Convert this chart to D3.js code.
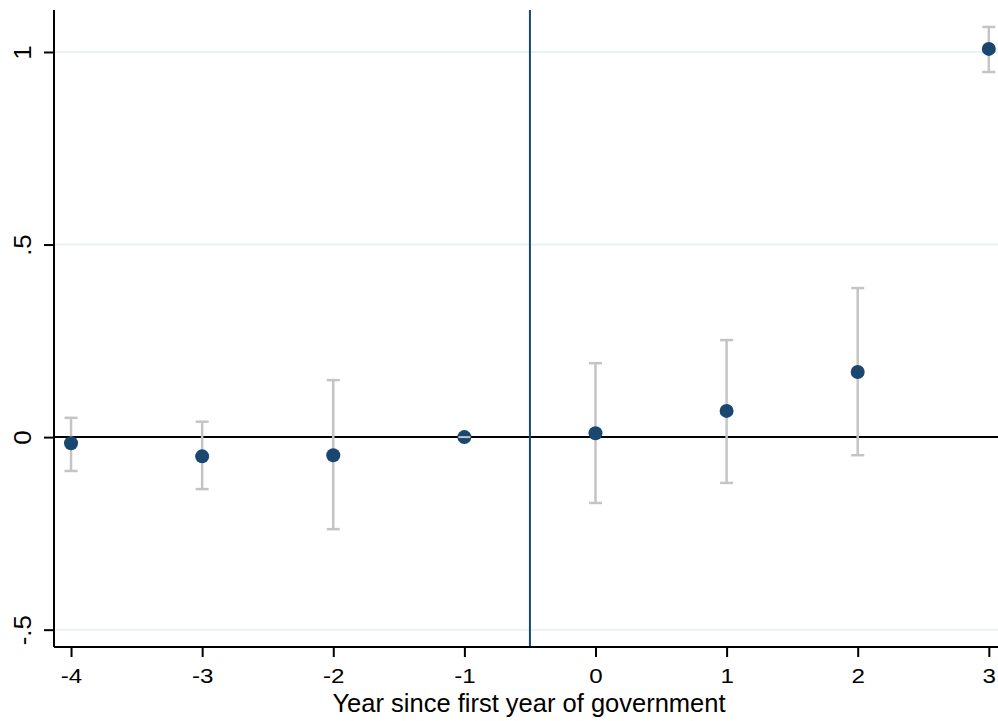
<!DOCTYPE html>
<html>
<head>
<meta charset="utf-8">
<script src="https://cdn.jsdelivr.net/npm/d3@7"></script>
<style>
  html, body { margin: 0; padding: 0; background: #fff; }
  svg { display: block; }
  svg text { font-family: "Liberation Sans", Arial, sans-serif; }
</style>
</head>
<body>
<svg id="chart" width="998" height="721"></svg>
<script>
// Event-study estimates by year relative to the first year of government
const years = [-4, -3, -2, -1, 0, 1, 2, 3];
const estimates = [-0.016, -0.050, -0.047, 0.000, 0.010, 0.068, 0.169, 1.008];
const ciLower = [-0.088, -0.135, -0.239, 0.000, -0.171, -0.119, -0.047, 0.948];
const ciUpper = [0.050, 0.040, 0.148, 0.000, 0.192, 0.252, 0.387, 1.065];
const yTicks = [-0.5, 0, 0.5, 1];
const yTickLabels = ["-.5", "0", ".5", "1"];
const xTicks = [-4, -3, -2, -1, 0, 1, 2, 3];
const xTickLabels = ["-4", "-3", "-2", "-1", "0", "1", "2", "3"];
const eventLine = -0.5;
const xTitle = "Year since first year of government";

const svg = d3.select("#chart");
const margin = { left: 54, right: 0, top: 10, bottom: 74 };
const W = 998, H = 721;
const FONT = "Liberation Sans, Arial, sans-serif";

const x = d3.scaleLinear().domain([-4.13, 3.07]).range([margin.left, W - margin.right]);
const y = d3.scaleLinear().domain([-0.545, 1.109]).range([H - margin.bottom, margin.top]);

const navy = "#1a476f";
const grey = "#c4c4c4";

// horizontal gridlines
svg.append("g").selectAll("line").data(yTicks).join("line")
  .attr("x1", margin.left).attr("x2", W)
  .attr("y1", d => y(d)).attr("y2", d => y(d))
  .attr("stroke", "#eaf2f3").attr("stroke-width", 2);

// reference line at zero
svg.append("line")
  .attr("x1", margin.left).attr("x2", W)
  .attr("y1", y(0)).attr("y2", y(0))
  .attr("stroke", "#000").attr("stroke-width", 2);

// treatment onset
svg.append("line")
  .attr("x1", x(eventLine)).attr("x2", x(eventLine))
  .attr("y1", margin.top).attr("y2", H - margin.bottom)
  .attr("stroke", navy).attr("stroke-width", 2);

const rows = years.map((yr, i) => ({ yr, est: estimates[i], lo: ciLower[i], hi: ciUpper[i] }));

// confidence intervals
const ci = svg.append("g").attr("stroke", grey).attr("stroke-width", 2.5).attr("fill", "none");
ci.selectAll(".stem").data(rows).join("line")
  .attr("x1", d => x(d.yr)).attr("x2", d => x(d.yr))
  .attr("y1", d => y(d.lo)).attr("y2", d => y(d.hi));
ci.selectAll(".capLo").data(rows.filter(d => d.hi !== d.lo)).join("line")
  .attr("x1", d => x(d.yr) - 6.5).attr("x2", d => x(d.yr) + 6.5)
  .attr("y1", d => y(d.lo)).attr("y2", d => y(d.lo));
ci.selectAll(".capHi").data(rows.filter(d => d.hi !== d.lo)).join("line")
  .attr("x1", d => x(d.yr) - 6.5).attr("x2", d => x(d.yr) + 6.5)
  .attr("y1", d => y(d.hi)).attr("y2", d => y(d.hi));

// point estimates
svg.append("g").selectAll("circle").data(rows).join("circle")
  .attr("cx", d => x(d.yr)).attr("cy", d => y(d.est))
  .attr("r", 7).attr("fill", navy);

// the reference-year marker is overdrawn by a short grey segment
svg.append("g").selectAll("line").data(rows.filter(d => d.hi === d.lo)).join("line")
  .attr("x1", d => x(d.yr) - 6).attr("x2", d => x(d.yr) + 6)
  .attr("y1", d => y(d.est)).attr("y2", d => y(d.est))
  .attr("stroke", grey).attr("stroke-width", 2);

// y axis
const yAxis = d3.axisLeft(y).tickValues(yTicks)
  .tickFormat((d, i) => yTickLabels[i]).tickSize(10);
const gy = svg.append("g").attr("transform", `translate(${margin.left},0)`)
  .call(yAxis).attr("font-family", FONT);
gy.select(".domain").attr("d", `M0,${margin.top}V${H - margin.bottom}`).attr("stroke", "#000").attr("stroke-width", 2);
gy.selectAll(".tick line").attr("stroke", "#000").attr("stroke-width", 2);
gy.selectAll(".tick text")
  .attr("font-size", 24).attr("fill", "#000")
  .attr("text-anchor", "middle").attr("dy", null)
  .attr("x", null).attr("y", null)
  .attr("transform", `translate(${31 - margin.left},0) rotate(-90) scale(1.08,1)`);

// x axis
const xAxis = d3.axisBottom(x).tickValues(xTicks)
  .tickFormat((d, i) => xTickLabels[i]).tickSize(10);
const gx = svg.append("g").attr("transform", `translate(0,${H - margin.bottom})`)
  .call(xAxis).attr("font-family", FONT);
gx.select(".domain").attr("d", `M${margin.left},0H${W}`).attr("stroke", "#000").attr("stroke-width", 2);
gx.selectAll(".tick line").attr("stroke", "#000").attr("stroke-width", 2);
gx.selectAll(".tick text").attr("font-size", 21).attr("fill", "#000")
  .attr("dy", null).attr("y", null)
  .attr("transform", "translate(0,36) scale(1.15,1)");

// x axis title
svg.append("text")
  .attr("x", (margin.left + W) / 2 + 3).attr("y", 712)
  .attr("text-anchor", "middle")
  .attr("font-family", FONT)
  .attr("font-size", 25.5).attr("fill", "#000")
  .text(xTitle);
</script>
</body>
</html>
